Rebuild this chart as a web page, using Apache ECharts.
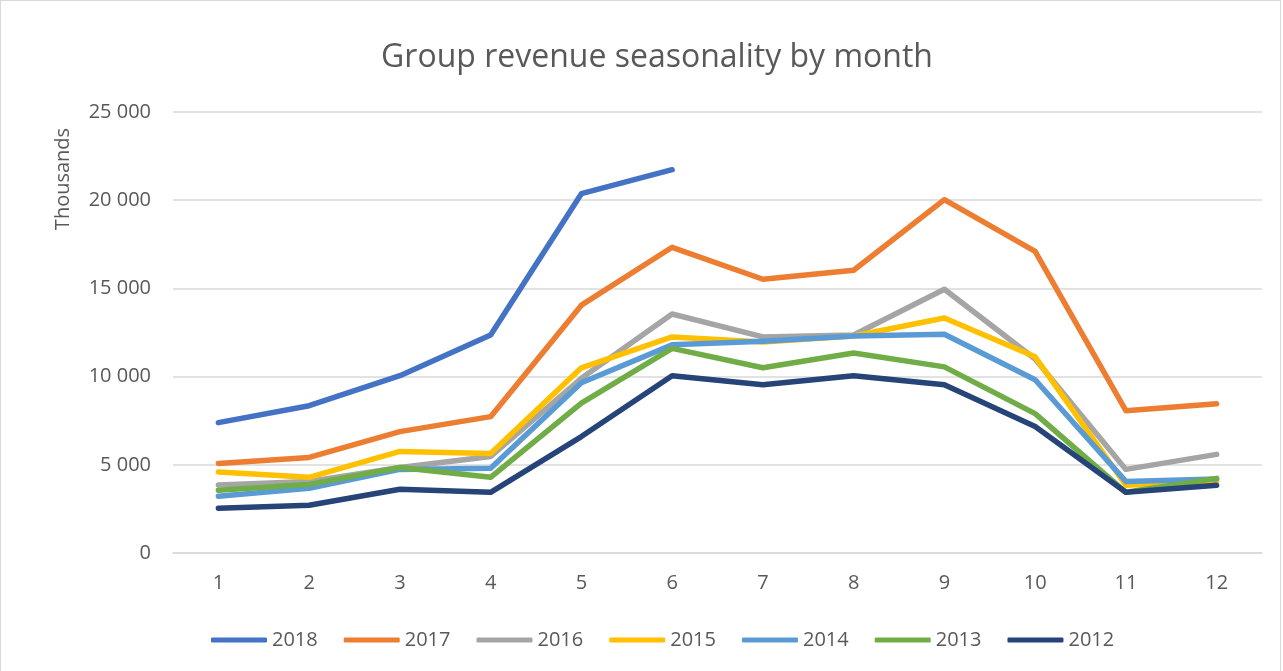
<!DOCTYPE html>
<html>
<head>
<meta charset="utf-8">
<script src="https://cdn.jsdelivr.net/npm/echarts@6/dist/echarts.min.js"></script>
<style>
  html, body { margin: 0; padding: 0; background: #fff; }
  #chart { width: 1281px; height: 680px; border: 1px solid #d9d9d9; box-sizing: border-box; }
</style>
</head>
<body>
<div id="chart"></div>
<script>
// months
var months = ['1','2','3','4','5','6','7','8','9','10','11','12']
// revenue in thousands
var y2018 = [7390, 8350, 10050, 12360, 20370, 21730, null, null, null, null, null, null]
var y2017 = [5080, 5420, 6880, 7730, 14050, 17330, 15520, 16030, 20030, 17100, 8070, 8460]
var y2016 = [3860, 4060, 4850, 5470, 9900, 13550, 12250, 12360, 14950, 11000, 4740, 5590]
var y2015 = [4590, 4290, 5760, 5640, 10500, 12250, 11960, 12300, 13320, 11120, 3840, 4080]
var y2014 = [3220, 3670, 4740, 4800, 9650, 11800, 12000, 12300, 12400, 9820, 4060, 4200]
var y2013 = [3560, 3890, 4850, 4290, 8500, 11600, 10500, 11340, 10550, 7900, 3440, 4230]
var y2012 = [2540, 2710, 3610, 3440, 6600, 10050, 9540, 10050, 9540, 7170, 3440, 3840]

var names = ['2018','2017','2016','2015','2014','2013','2012']
var values = [y2018, y2017, y2016, y2015, y2014, y2013, y2012]
var colors = ['#4472C4','#ED7D31','#A5A5A5','#FFC000','#5B9BD5','#70AD47','#264478']

var font = 'Open Sans'
var myChart = echarts.init(document.getElementById('chart'))
myChart.setOption({
  animation: false,
  color: colors,
  title: {
    text: 'Group revenue seasonality by month',
    left: 651,
    textAlign: 'center',
    top: 36,
    textStyle: { fontFamily: font, fontSize: 32, fontWeight: 'normal', color: '#595959' }
  },
  // axis unit label, sits near the top of the value axis
  graphic: [{
    type: 'text',
    x: 62,
    y: 178,
    rotation: Math.PI / 2,
    style: { text: 'Thousands', fontFamily: font, fontSize: 20, fill: '#595959', align: 'center', verticalAlign: 'middle' }
  }],
  legend: {
    data: names,
    top: 624,
    left: 205,
    itemWidth: 56,
    itemHeight: 5,
    itemGap: 26,
    icon: 'roundRect',
    textStyle: { fontFamily: font, fontSize: 20, color: '#595959' }
  },
  grid: { left: 172, right: 18, top: 111, bottom: 126 },
  xAxis: {
    type: 'category',
    data: months,
    boundaryGap: true,
    axisLine: { lineStyle: { color: '#d9d9d9', width: 1.5 } },
    axisTick: { show: false },
    axisLabel: { fontFamily: font, fontSize: 20, color: '#595959', margin: 20 }
  },
  yAxis: {
    type: 'value',
    min: 0,
    max: 25000,
    interval: 5000,
    axisLine: { show: false },
    axisTick: { show: false },
    splitLine: { lineStyle: { color: '#d9d9d9', width: 1.5 } },
    axisLabel: {
      fontFamily: font, fontSize: 20, color: '#595959', margin: 22,
      formatter: function (v) { return v === 0 ? '0' : String(v).replace(/\B(?=(\d{3})+(?!\d))/g, ' ') }
    }
  },
  series: names.map(function (n, i) {
    return {
      name: n,
      type: 'line',
      data: values[i],
      showSymbol: false,
      symbol: 'none',
      lineStyle: { width: 5.5, cap: 'round', join: 'round' }
    }
  })
})
</script>
</body>
</html>
